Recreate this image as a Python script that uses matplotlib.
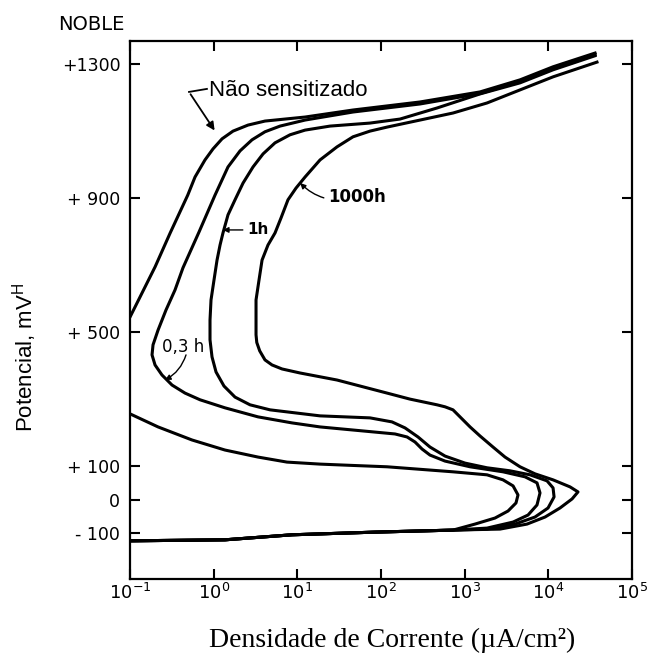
import numpy as np
import matplotlib.pyplot as plt

# leituras da figura: log10 da densidade de corrente (uA/cm2) e potencial (mV)
# ramo catodico comum as quatro curvas
catodo_logi = [-1.0, 0.135, 0.936, 1.93, 2.86]
catodo_mv = [-122, -119, -104, -96, -90]

# nao sensitizado
ns_logi = [3.123, 3.362, 3.518, 3.613, 3.637, 3.578, 3.458, 3.267, 2.86, 2.072,
           1.665, 1.271, 0.876, 0.53, 0.135, -0.259, -0.665, -1.0, -1.15, -1.10,
           -1.0, -0.70, -0.52, -0.31, -0.223, -0.104, -0.008, 0.10, 0.231, 0.41,
           0.613, 0.853, 1.092, 1.665, 2.466, 3.183, 3.661, 4.056, 4.558]
ns_mv = [-72, -54, -33, -9, 15, 42, 60, 75, 84, 99,
         103, 107, 113, 128, 149, 179, 218, 257, 280, 500,
         546, 696, 797, 910, 964, 1015, 1048, 1078, 1101, 1119,
         1131, 1137, 1143, 1164, 1188, 1218, 1254, 1293, 1334]

# 0,3 h
h03_logi = [3.267, 3.578, 3.757, 3.864, 3.90, 3.864, 3.721, 3.458, 3.064, 2.765,
            2.585, 2.49, 2.406, 2.311, 2.167, 1.271, 0.936, 0.53, 0.135, -0.163,
            -0.343, -0.498, -0.618, -0.701, -0.737, -0.725, -0.665, -0.570, -0.462,
            -0.367, -0.175, 0.016, 0.171, 0.315, 0.458, 0.613, 0.793, 1.092, 1.665,
            2.466, 3.183, 3.661, 4.056, 4.558]
h03_mv = [-84, -66, -45, -15, 21, 51, 69, 84, 99, 116,
          134, 152, 173, 188, 197, 218, 230, 248, 275, 299,
          319, 343, 373, 403, 433, 463, 507, 567, 627,
          693, 800, 910, 994, 1042, 1075, 1099, 1116, 1134, 1158,
          1182, 1213, 1249, 1287, 1329]

# 1 h
h1_logi = [3.267, 3.602, 3.84, 3.996, 4.068, 4.056, 3.984, 3.781, 3.542, 3.267,
           3.004, 2.765, 2.585, 2.442, 2.287, 2.131, 1.868, 1.271, 0.673, 0.434,
           0.255, 0.123, 0.028, -0.020, -0.044, -0.044, -0.032, 0.004, 0.04, 0.076,
           0.111, 0.171, 0.255, 0.351, 0.47, 0.59, 0.733, 0.912, 1.092, 1.39,
           1.868, 2.227, 2.669, 3.183, 3.661, 4.056, 4.558]
h1_mv = [-87, -72, -51, -24, 9, 36, 57, 75, 87, 96,
         110, 131, 158, 188, 215, 233, 245, 251, 269, 284,
         307, 340, 382, 427, 478, 537, 597, 657, 716, 761,
         797, 851, 896, 946, 994, 1033, 1066, 1090, 1104, 1116,
         1125, 1137, 1170, 1212, 1245, 1284, 1326]

# 1000 h
h1000_logi = [3.422, 3.745, 3.96, 4.139, 4.283, 4.354, 4.259, 4.056, 3.84, 3.661,
              3.482, 3.338, 3.183, 3.064, 2.944, 2.86, 2.765, 2.669, 2.346, 2.072,
              1.474, 1.032, 0.817, 0.697, 0.613, 0.55, 0.515, 0.506, 0.506, 0.542,
              0.578, 0.649, 0.733, 0.805, 0.888, 0.984, 1.092, 1.271, 1.474, 1.665,
              1.868, 2.072, 2.466, 2.86, 3.267, 3.661, 4.056, 4.581]
h1000_mv = [-87, -72, -51, -24, 3, 24, 39, 60, 78, 99,
            128, 158, 191, 218, 248, 269, 278, 284, 301, 319,
            358, 379, 391, 403, 418, 445, 470, 493, 597, 657,
            716, 761, 797, 842, 896, 931, 964, 1015, 1054, 1084,
            1101, 1113, 1134, 1155, 1185, 1224, 1263, 1307]

curvas = [(ns_logi, ns_mv), (h03_logi, h03_mv), (h1_logi, h1_mv), (h1000_logi, h1000_mv)]

yticks = [-100, 0, 100, 500, 900, 1300]
ytick_labels = ['- 100', '0', '+ 100', '+ 500', '+ 900', '+1300']
xticks = [1e-1, 1e0, 1e1, 1e2, 1e3, 1e4, 1e5]
xtick_labels = [r'$10^{-1}$', r'$10^{0}$', r'$10^{1}$', r'$10^{2}$',
                r'$10^{3}$', r'$10^{4}$', r'$10^{5}$']

fig = plt.figure(figsize=(6.61, 6.57), dpi=100)
ax = fig.add_axes([0.1967, 0.1187, 0.7595, 0.8189])

for logi, mv in curvas:
    x = 10 ** np.array(catodo_logi + logi)
    y = np.array(catodo_mv + mv)
    ax.plot(x, y, color='black', linewidth=2.2, solid_joinstyle='round')

ax.set_xscale('log')
ax.set_xlim(1e-1, 1e5)
ax.set_ylim(-236, 1370)
ax.set_xticks(xticks)
ax.set_xticklabels(xtick_labels, fontsize=13)
ax.set_yticks(yticks)
ax.set_yticklabels(ytick_labels, fontsize=12.5, family='DejaVu Sans')
ax.minorticks_off()
ax.tick_params(direction='in', length=7, width=1.5, top=True, right=True)
ax.tick_params(axis='y', pad=7)
ax.tick_params(axis='x', pad=3)
for s in ax.spines.values():
    s.set_linewidth(1.6)

# anotacoes
ax.plot([0.83, 0.507], [1227, 1218], color='black', linewidth=1.3)
ax.annotate('', xy=(1.07, 1096), xytext=(0.507, 1218),
            arrowprops=dict(arrowstyle='-|>', color='black', lw=1.3, mutation_scale=12))
ax.text(0.88, 1221, 'Não sensitizado', fontsize=16, family='Liberation Sans',
        va='center', ha='left')

ax.annotate('1000h', xy=(10.8, 946), xytext=(23.2, 904), fontsize=12,
            fontweight='bold', va='center', ha='left',
            arrowprops=dict(arrowstyle='-|>', color='black', lw=1.0, mutation_scale=8,
                            connectionstyle='arc3,rad=-0.3', shrinkA=1, shrinkB=0))
ax.annotate('1h', xy=(1.29, 806), xytext=(2.5, 806), fontsize=11,
            fontweight='bold', va='center', ha='left',
            arrowprops=dict(arrowstyle='-|>', color='black', lw=1.0, mutation_scale=8,
                            shrinkA=1, shrinkB=0))
ax.text(0.241, 457, '0,3 h', fontsize=12, va='center', ha='left')
ax.annotate('', xy=(0.262, 358), xytext=(0.467, 433),
            arrowprops=dict(arrowstyle='-|>', color='black', lw=1.0, mutation_scale=8,
                            connectionstyle='arc3,rad=-0.2', shrinkA=0, shrinkB=0))

fig.text(58 / 661, 1 - 25 / 657, 'NOBLE', fontsize=14, va='center', ha='left')
fig.text(392 / 661, 1 - 640 / 657, 'Densidade de Corrente (µA/cm²)',
         fontsize=20, family='Liberation Serif', va='center', ha='center')
fig.text(25 / 661, 1 - 357 / 657, r'Potencial, mV$^{\mathregular{H}}$',
         fontsize=16, family='Liberation Sans', rotation=90, va='center', ha='center')

fig.savefig('out.png', dpi=100)
